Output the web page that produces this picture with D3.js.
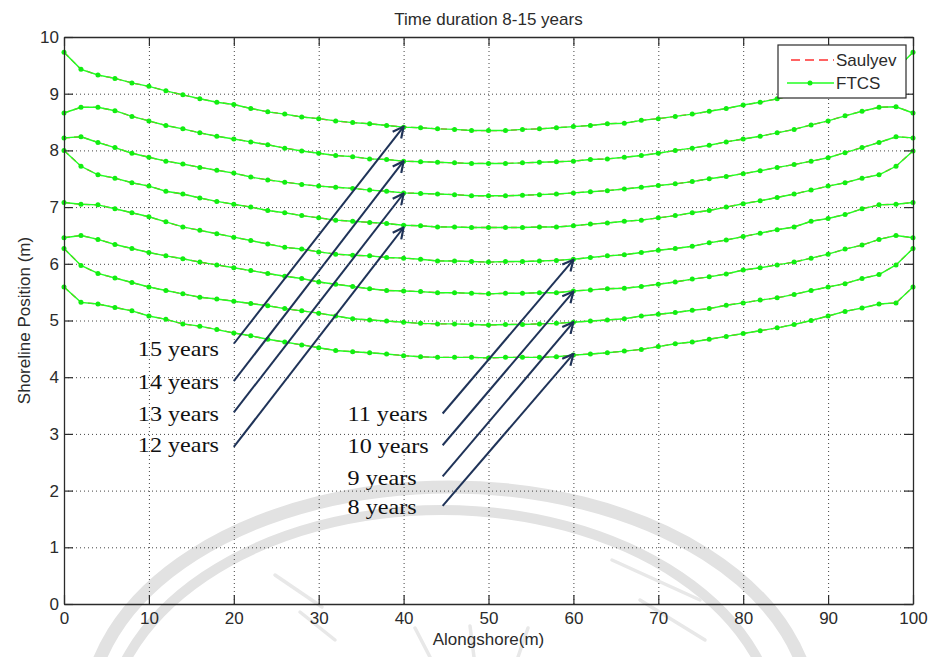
<!DOCTYPE html>
<html>
<head>
<meta charset="utf-8">
<script src="https://cdn.jsdelivr.net/npm/d3@7"></script>
<style>
  body { margin: 0; background: #fff; }
  svg { display: block; }
  .tick text { font-family: "Liberation Sans", Arial, sans-serif; font-size: 17px; fill: #2b2b2b; }
  .label { font-family: "Liberation Sans", Arial, sans-serif; font-size: 17px; fill: #2b2b2b; }
  .years { font-family: "Liberation Serif", "Times New Roman", serif; font-size: 21px; fill: #111; }
</style>
</head>
<body>
<script>
// Alongshore positions (m), one marker every 2 m
var alongshore = [0, 2, 4, 6, 8, 10, 12, 14, 16, 18, 20, 22, 24, 26, 28, 30, 32, 34, 36, 38, 40,
  42, 44, 46, 48, 50, 52, 54, 56, 58, 60, 62, 64, 66, 68, 70, 72, 74, 76, 78, 80,
  82, 84, 86, 88, 90, 92, 94, 96, 98, 100];

// Shoreline position (m) for each duration
var shore15 = [9.73, 9.43, 9.33, 9.27, 9.19, 9.13, 9.05, 8.98, 8.91, 8.85, 8.81, 8.74, 8.68, 8.64, 8.59, 8.56, 8.52,
  8.49, 8.47, 8.44, 8.41, 8.40, 8.38, 8.37, 8.35, 8.35, 8.35, 8.37, 8.38, 8.40, 8.42, 8.44, 8.47, 8.48,
  8.53, 8.56, 8.60, 8.64, 8.69, 8.74, 8.80, 8.85, 8.91, 8.98, 9.05, 9.13, 9.19, 9.27, 9.33, 9.43, 9.73];
var shore14 = [8.66, 8.76, 8.76, 8.70, 8.60, 8.52, 8.44, 8.38, 8.31, 8.25, 8.20, 8.15, 8.10, 8.04, 7.99, 7.95, 7.91,
  7.89, 7.85, 7.84, 7.81, 7.80, 7.79, 7.78, 7.77, 7.77, 7.77, 7.78, 7.79, 7.80, 7.81, 7.84, 7.85, 7.88,
  7.91, 7.95, 8.00, 8.04, 8.09, 8.15, 8.20, 8.25, 8.31, 8.37, 8.45, 8.52, 8.61, 8.69, 8.76, 8.77, 8.66];
var shore13 = [8.22, 8.24, 8.14, 8.05, 7.95, 7.88, 7.81, 7.76, 7.70, 7.65, 7.60, 7.53, 7.48, 7.44, 7.40, 7.37, 7.35,
  7.33, 7.30, 7.28, 7.25, 7.24, 7.23, 7.22, 7.20, 7.20, 7.20, 7.21, 7.22, 7.23, 7.25, 7.27, 7.29, 7.32,
  7.35, 7.38, 7.41, 7.45, 7.50, 7.54, 7.59, 7.64, 7.70, 7.75, 7.81, 7.87, 7.96, 8.05, 8.14, 8.24, 8.22];
var shore12 = [8.00, 7.72, 7.57, 7.51, 7.43, 7.37, 7.28, 7.23, 7.16, 7.10, 7.05, 7.00, 6.94, 6.90, 6.85, 6.81, 6.77,
  6.75, 6.73, 6.71, 6.68, 6.67, 6.65, 6.65, 6.64, 6.64, 6.64, 6.64, 6.65, 6.65, 6.67, 6.70, 6.72, 6.75,
  6.77, 6.81, 6.85, 6.90, 6.94, 7.00, 7.06, 7.11, 7.17, 7.23, 7.30, 7.37, 7.43, 7.51, 7.57, 7.72, 7.99];
var shore11 = [7.08, 7.05, 7.04, 6.97, 6.90, 6.83, 6.74, 6.65, 6.59, 6.53, 6.47, 6.41, 6.35, 6.29, 6.26, 6.21, 6.17,
  6.15, 6.14, 6.11, 6.10, 6.08, 6.05, 6.05, 6.04, 6.03, 6.04, 6.04, 6.05, 6.06, 6.08, 6.11, 6.14, 6.16,
  6.20, 6.24, 6.27, 6.31, 6.37, 6.42, 6.48, 6.54, 6.60, 6.65, 6.75, 6.80, 6.87, 6.97, 7.04, 7.05, 7.08];
var shore10 = [6.46, 6.50, 6.43, 6.34, 6.27, 6.20, 6.14, 6.09, 6.03, 5.98, 5.93, 5.88, 5.83, 5.78, 5.74, 5.68, 5.64,
  5.60, 5.56, 5.53, 5.52, 5.51, 5.49, 5.49, 5.48, 5.47, 5.48, 5.48, 5.49, 5.49, 5.52, 5.54, 5.56, 5.57,
  5.60, 5.64, 5.68, 5.73, 5.77, 5.82, 5.89, 5.93, 5.98, 6.03, 6.10, 6.17, 6.26, 6.33, 6.43, 6.50, 6.46];
var shore9 = [6.27, 5.97, 5.83, 5.75, 5.67, 5.59, 5.53, 5.47, 5.41, 5.38, 5.34, 5.30, 5.26, 5.21, 5.17, 5.13, 5.08,
  5.03, 5.01, 4.99, 4.97, 4.95, 4.94, 4.94, 4.93, 4.92, 4.93, 4.93, 4.94, 4.95, 4.97, 4.99, 5.01, 5.03,
  5.08, 5.11, 5.14, 5.18, 5.21, 5.27, 5.31, 5.36, 5.40, 5.46, 5.53, 5.59, 5.65, 5.74, 5.81, 5.98, 6.27];
var shore8 = [5.59, 5.32, 5.29, 5.23, 5.17, 5.08, 5.02, 4.94, 4.90, 4.84, 4.78, 4.73, 4.67, 4.62, 4.57, 4.52, 4.47,
  4.45, 4.43, 4.41, 4.38, 4.36, 4.35, 4.35, 4.35, 4.34, 4.35, 4.35, 4.35, 4.36, 4.39, 4.41, 4.43, 4.46,
  4.49, 4.54, 4.59, 4.62, 4.67, 4.72, 4.77, 4.82, 4.87, 4.93, 5.00, 5.08, 5.16, 5.22, 5.29, 5.31, 5.59];

// FTCS and Saulyev results overlap in the figure, so both use the same readings
var ftcs = [shore15, shore14, shore13, shore12, shore11, shore10, shore9, shore8];
var saulyev = [shore15, shore14, shore13, shore12, shore11, shore10, shore9, shore8];

// Annotations in data units: label (left edge, baseline), arrow start and arrow tip
var yearLabels = ["15 years", "14 years", "13 years", "12 years", "11 years", "10 years", "9 years", "8 years"];
var labelX = [8.7, 8.7, 8.7, 8.7, 33.4, 33.4, 33.4, 33.4];
var labelY = [4.37, 3.79, 3.23, 2.68, 3.23, 2.66, 2.10, 1.59];
var arrowFromX = [20, 20, 20, 20, 44.6, 44.6, 44.6, 44.6];
var arrowFromY = [4.59, 3.93, 3.38, 2.77, 3.36, 2.80, 2.25, 1.73];
var arrowToX = [40, 40, 40, 40, 60, 60, 60, 60];
var arrowToY = [8.42, 7.81, 7.24, 6.64, 6.07, 5.51, 4.97, 4.41];

var xTicks = [0, 10, 20, 30, 40, 50, 60, 70, 80, 90, 100];
var yTicks = [0, 1, 2, 3, 4, 5, 6, 7, 8, 9, 10];
var legendNames = ["Saulyev", "FTCS"];

// Size and margins
var margin = { top: 37, right: 18, bottom: 53, left: 64 },
    width = 931 - margin.left - margin.right,
    height = 657 - margin.top - margin.bottom;

var x = d3.scaleLinear().domain([0, 100]).range([0, width]);
var y = d3.scaleLinear().domain([0, 10]).range([height, 0]);

var root = d3.select("body").append("svg")
    .attr("width", 931)
    .attr("height", 657);

// Faint watermark behind the plot
var wm = root.append("g").attr("fill", "none").attr("stroke", "#e2e2e2");
wm.append("ellipse")
    .attr("cx", 450).attr("cy", 717).attr("rx", 362).attr("ry", 230)
    .attr("stroke-width", 13);
wm.append("ellipse")
    .attr("cx", 442).attr("cy", 737).attr("rx", 336).attr("ry", 227)
    .attr("stroke-width", 10);
[[275, 575, 322, 607], [300, 612, 335, 640], [612, 560, 700, 600], [640, 600, 705, 640],
 [415, 628, 430, 657], [470, 626, 474, 657], [528, 628, 518, 657]].forEach(function (r) {
  wm.append("line").attr("x1", r[0]).attr("y1", r[1]).attr("x2", r[2]).attr("y2", r[3])
      .attr("stroke-width", 3.5).attr("stroke-linecap", "round").attr("stroke", "#e8e8e8");
});

var svg = root.append("g")
    .attr("transform", `translate(${margin.left},${margin.top})`);

// Grid (dotted)
svg.append("g")
    .attr("transform", `translate(0,${height})`)
    .call(d3.axisBottom(x).tickValues(xTicks.slice(1, -1)).tickSize(-height).tickFormat(""))
    .call(g => g.select(".domain").remove())
    .selectAll("line").attr("stroke", "#444").attr("stroke-dasharray", "1,3");
svg.append("g")
    .call(d3.axisLeft(y).tickValues(yTicks.slice(1, -1)).tickSize(-width).tickFormat(""))
    .call(g => g.select(".domain").remove())
    .selectAll("line").attr("stroke", "#444").attr("stroke-dasharray", "1,3");

// Lines
var line = d3.line()
    .x((d, i) => x(alongshore[i]))
    .y(d => y(d));

saulyev.forEach(function (s) {
  svg.append("path")
      .datum(s)
      .attr("fill", "none")
      .attr("stroke", "#ff3030")
      .attr("stroke-width", 1.3)
      .attr("stroke-dasharray", "6,4")
      .attr("d", line);
});

ftcs.forEach(function (s) {
  svg.append("path")
      .datum(s)
      .attr("fill", "none")
      .attr("stroke", "#22ff22")
      .attr("stroke-width", 1.4)
      .attr("d", line);
  svg.append("g").selectAll("circle")
      .data(s)
      .enter().append("circle")
      .attr("cx", (d, i) => x(alongshore[i]))
      .attr("cy", d => y(d))
      .attr("r", 2.5)
      .attr("fill", "#11ee11");
});

// Axes with inward ticks on all four sides
var axisColor = "#2b2b2b";
function styleAxis(g) {
  g.select(".domain").attr("stroke", axisColor).attr("stroke-width", 1.3);
  g.selectAll(".tick line").attr("stroke", axisColor).attr("stroke-width", 1.2);
}
svg.append("g")
    .attr("transform", `translate(0,${height})`)
    .call(d3.axisBottom(x).tickValues(xTicks).tickSizeInner(-9).tickSizeOuter(0).tickPadding(8))
    .call(styleAxis);
svg.append("g")
    .call(d3.axisLeft(y).tickValues(yTicks).tickSizeInner(-9).tickSizeOuter(0).tickPadding(5))
    .call(styleAxis);
svg.append("g")
    .call(d3.axisTop(x).tickValues(xTicks).tickSizeInner(-9).tickSizeOuter(0).tickFormat(""))
    .call(styleAxis);
svg.append("g")
    .attr("transform", `translate(${width},0)`)
    .call(d3.axisRight(y).tickValues(yTicks).tickSizeInner(-9).tickSizeOuter(0).tickFormat(""))
    .call(styleAxis);

// Arrows with open heads
root.append("defs").append("marker")
    .attr("id", "head")
    .attr("viewBox", "0 0 12 12")
    .attr("refX", 11)
    .attr("refY", 6)
    .attr("markerWidth", 13)
    .attr("markerHeight", 13)
    .attr("markerUnits", "userSpaceOnUse")
    .attr("orient", "auto")
    .append("path")
    .attr("d", "M1,1 L11,6 L1,11")
    .attr("fill", "none")
    .attr("stroke", "#1f3358")
    .attr("stroke-width", 2);

yearLabels.forEach(function (lab, i) {
  svg.append("line")
      .attr("x1", x(arrowFromX[i]))
      .attr("y1", y(arrowFromY[i]))
      .attr("x2", x(arrowToX[i]))
      .attr("y2", y(arrowToY[i]))
      .attr("stroke", "#1f3358")
      .attr("stroke-width", 2)
      .attr("marker-end", "url(#head)");
  svg.append("text")
      .attr("class", "years")
      .attr("transform", `translate(${x(labelX[i])},${y(labelY[i])}) scale(1.15,1)`)
      .text(lab);
});

// Legend
var legend = svg.append("g").attr("transform", `translate(${width - 135},${8})`);
legend.append("rect")
    .attr("width", 128)
    .attr("height", 53)
    .attr("fill", "#fff")
    .attr("stroke", axisColor)
    .attr("stroke-width", 1.2);
legend.append("line")
    .attr("x1", 13).attr("x2", 56).attr("y1", 15).attr("y2", 15)
    .attr("stroke", "#ff3030").attr("stroke-width", 1.5).attr("stroke-dasharray", "9,5");
legend.append("line")
    .attr("x1", 9).attr("x2", 56).attr("y1", 38).attr("y2", 38)
    .attr("stroke", "#22ff22").attr("stroke-width", 1.4);
legend.append("circle")
    .attr("cx", 32).attr("cy", 38).attr("r", 2.5).attr("fill", "#11ee11");
legendNames.forEach(function (n, i) {
  legend.append("text")
      .attr("class", "label")
      .attr("x", 58)
      .attr("y", 15 + i * 23)
      .attr("dy", "0.35em")
      .text(n);
});

// Title and axis labels
svg.append("text")
    .attr("class", "label")
    .attr("x", width / 2)
    .attr("y", -12)
    .style("text-anchor", "middle")
    .text("Time duration 8-15 years");

svg.append("text")
    .attr("class", "label")
    .attr("x", width / 2)
    .attr("y", height + 41)
    .style("text-anchor", "middle")
    .text("Alongshore(m)");

svg.append("text")
    .attr("class", "label")
    .attr("transform", "rotate(-90)")
    .attr("x", -height / 2)
    .attr("y", -margin.left + 30)
    .style("text-anchor", "middle")
    .text("Shoreline Position (m)");
</script>
</body>
</html>
